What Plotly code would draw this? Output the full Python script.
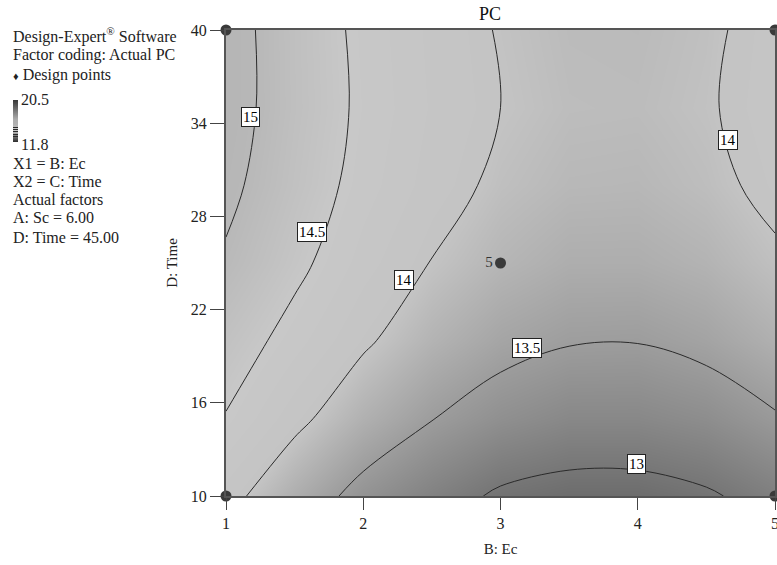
import plotly.graph_objects as go

# ---- data ----
ec_vals = [1, 1.5, 2, 2.5, 3, 3.5, 4, 4.5, 5]          # B: Ec
time_vals = [10, 15, 20, 25, 30, 35, 40]                 # D: Time
pc_grid = [
    [14.12, 13.72, 13.38, 13.15, 12.95, 12.88, 12.88, 12.96, 13.12],
    [14.48, 14.09, 13.76, 13.51, 13.34, 13.24, 13.24, 13.31, 13.47],
    [14.70, 14.37, 14.05, 13.79, 13.61, 13.52, 13.51, 13.59, 13.75],
    [14.95, 14.59, 14.25, 13.99, 13.82, 13.72, 13.72, 13.79, 13.95],
    [15.10, 14.72, 14.38, 14.12, 13.94, 13.85, 13.84, 13.92, 14.08],
    [15.18, 14.77, 14.43, 14.17, 14.00, 13.91, 13.90, 13.97, 14.13],
    [15.18, 14.76, 14.41, 14.15, 13.98, 13.89, 13.88, 13.95, 14.11],
]
pc_min, pc_max = 11.8, 20.5

design_ec = [1, 1, 5, 5, 3]
design_time = [10, 40, 10, 40, 25]
design_text = ["", "", "", "", "5"]

label_text = ["15", "14.5", "14", "14", "13.5", "13"]
label_ec = [1.175, 1.63, 2.30, 4.66, 3.19, 3.99]
label_time = [34.4, 27.0, 23.9, 32.9, 19.5, 12.06]

x_ticks = [1, 2, 3, 4, 5]
y_ticks = [10, 16, 22, 28, 34, 40]

side_lines = [
    "Design-Expert<sup>®</sup> Software",
    "Factor coding: Actual PC",
    "<span style='font-size:11px'>♦</span> Design points",
    "X1 = B: Ec",
    "X2 = C: Time",
    "Actual factors",
    "A: Sc = 6.00",
    "D: Time = 45.00",
]

FONT = "Liberation Serif"
W, H = 777, 565
L, R, T, B = 226, 2, 30, 69
PW, PH = W - L - R, H - T - B

def nz(v):
    return (v - pc_min) / (pc_max - pc_min)

gray_scale = [
    [0.0, "rgb(45,45,45)"],
    [nz(12.9), "rgb(110,110,110)"],
    [nz(13.5), "rgb(156,156,156)"],
    [nz(14.0), "rgb(196,196,196)"],
    [nz(14.5), "rgb(200,200,200)"],
    [nz(15.0), "rgb(184,184,184)"],
    [nz(15.5), "rgb(176,176,176)"],
    [nz(16.5), "rgb(172,172,172)"],
    [1.0, "rgb(55,55,55)"],
]

fig = go.Figure()
fig.add_trace(go.Contour(
    x=ec_vals, y=time_vals, z=pc_grid,
    zmin=pc_min, zmax=pc_max, zauto=False,
    colorscale=gray_scale,
    contours=dict(coloring="heatmap", start=13, end=15, size=0.5, showlabels=False),
    line=dict(color="#2a2a2a", width=1, smoothing=1),
    showscale=True,
    colorbar=dict(
        x=(13 - L) / PW, xanchor="left", xpad=0, ypad=0,
        y=1 - (100 - T) / PH, yanchor="top",
        len=42, lenmode="pixels", thickness=5,
        outlinewidth=0, showticklabels=False, ticks="",
    ),
    hoverinfo="skip",
))

fig.add_trace(go.Scatter(
    x=design_ec, y=design_time, mode="markers+text",
    text=design_text, textposition="middle left",
    textfont=dict(family=FONT, size=15, color="#333"),
    marker=dict(size=11, color="#3a3a3a"),
    cliponaxis=False, showlegend=False, hoverinfo="skip",
))

annotations = []
for t, xv, yv in zip(label_text, label_ec, label_time):
    annotations.append(dict(
        x=xv, y=yv, xref="x", yref="y", text=t, showarrow=False,
        font=dict(family=FONT, size=15, color="black"),
        bgcolor="white", bordercolor="#222", borderwidth=1, borderpad=1,
    ))

line_y = [35, 55, 75, 163, 181, 199, 217, 237]
for t, yp in zip(side_lines, line_y):
    annotations.append(dict(
        x=(11 - L) / PW, y=1 - (yp - T) / PH, xref="paper", yref="paper",
        xanchor="left", yanchor="middle", text=t, showarrow=False,
        font=dict(family=FONT, size=16, color="#222"),
    ))
for t, yp in [("20.5", 99), ("11.8", 144)]:
    annotations.append(dict(
        x=(19 - L) / PW, y=1 - (yp - T) / PH, xref="paper", yref="paper",
        xanchor="left", yanchor="middle", text=t, showarrow=False,
        font=dict(family=FONT, size=16, color="#222"),
    ))

fig.update_layout(
    width=W, height=H,
    margin=dict(l=L, r=R, t=T, b=B, autoexpand=False),
    paper_bgcolor="white", plot_bgcolor="white",
    font=dict(family=FONT, size=16, color="#222"),
    title=dict(text="PC", x=490 / W, xanchor="center", y=1 - 14 / H, yanchor="middle",
               font=dict(family=FONT, size=18, color="#111")),
    showlegend=False,
    annotations=annotations,
    xaxis=dict(
        range=[1, 5], tickvals=x_ticks, ticks="outside", ticklen=12, tickcolor="#444",
        showline=True, linecolor="#555", linewidth=2, mirror=True, showgrid=False, zeroline=False,
        title=dict(text="B: Ec", font=dict(family=FONT, size=15), standoff=12),
        tickfont=dict(family=FONT, size=16), ticklabeloverflow="allow",
    ),
    yaxis=dict(
        range=[10, 40], tickvals=y_ticks, ticks="outside", ticklen=14, tickcolor="#444",
        showline=True, linecolor="#555", linewidth=2, mirror=True, showgrid=False, zeroline=False,
        title=dict(text="D: Time", font=dict(family=FONT, size=15), standoff=10),
        tickfont=dict(family=FONT, size=16),
    ),
)

fig.write_html(
    "out.html",
    config={"displayModeBar": False},
    post_script="document.body.style.margin='0';document.body.style.overflow='hidden';",
)
